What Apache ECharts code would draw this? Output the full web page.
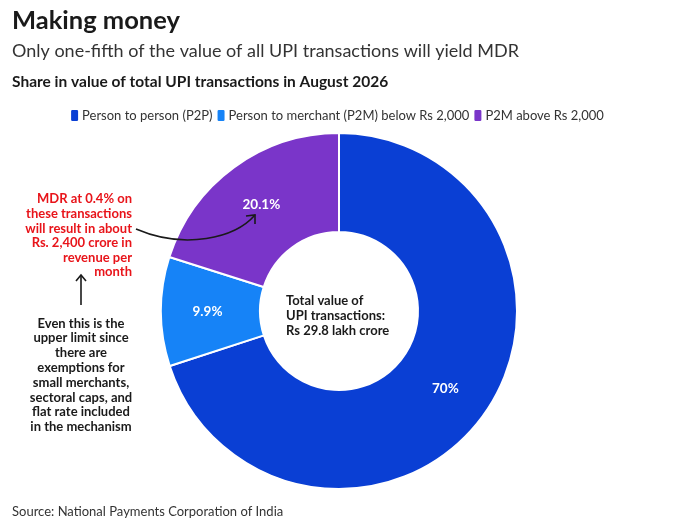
<!DOCTYPE html>
<html>
<head>
<meta charset="utf-8">
<script src="https://cdn.jsdelivr.net/npm/echarts@6/dist/echarts.min.js"></script>
<style>
  html, body { margin: 0; padding: 0; background: #fff; }
  #chart { width: 673px; height: 528px; }
</style>
</head>
<body>
<div id="chart"></div>
<script>
var categories = ['Person to person (P2P)', 'Person to merchant (P2M) below Rs 2,000', 'P2M above Rs 2,000'];
var shares = [70, 9.9, 20.1];
var shareLabels = ['70%', '9.9%', '20.1%'];
var colors = ['#0a3fd4', '#1683f7', '#7a35c9'];

var font = 'Lato, "Noto Sans", sans-serif';

var chart = echarts.init(document.getElementById('chart'));

var pieData = [];
for (var i = 0; i < categories.length; i++) {
  pieData.push({
    name: categories[i],
    value: shares[i],
    itemStyle: { color: colors[i] },
    label: { formatter: shareLabels[i] }
  });
}

option = {
  backgroundColor: '#fff',
  title: [
    { text: 'Making money', left: 12, top: 8, padding: 0,
      textStyle: { fontFamily: font, fontSize: 25.5, fontWeight: 'bold', color: '#1a1a1a' } },
    { text: 'Only one-fifth of the value of all UPI transactions will yield MDR', left: 12, top: 42, padding: 0,
      textStyle: { fontFamily: font, fontSize: 18, fontWeight: 'normal', color: '#333' } },
    { text: 'Share in value of total UPI transactions in August 2026', left: 12, top: 74, padding: 0,
      textStyle: { fontFamily: font, fontSize: 15.5, fontWeight: 'bold', color: '#1a1a1a' } },
    { text: 'Source: National Payments Corporation of India', left: 12, top: 505, padding: 0,
      textStyle: { fontFamily: font, fontSize: 13, fontWeight: 'normal', color: '#333' } }
  ],
  legend: {
    data: categories,
    top: 103,
    left: 'center',
    itemWidth: 9,
    itemHeight: 13,
    itemGap: 3,
    icon: 'roundRect',
    textStyle: { fontFamily: font, fontSize: 13, color: '#333', padding: [0, 0, 0, -2] }
  },
  series: [{
    type: 'pie',
    center: [339, 311],
    radius: [79, 178],
    startAngle: 90,
    clockwise: true,
    silent: true,
    itemStyle: { borderColor: '#fff', borderWidth: 2 },
    label: {
      position: 'inside',
      color: '#fff',
      fontFamily: font,
      fontSize: 13.5,
      fontWeight: 'bold'
    },
    labelLine: { show: false },
    data: pieData
  }],
  graphic: [
    {
      type: 'text', x: 286, y: 293, z: 100,
      style: {
        text: 'Total value of\nUPI transactions:\nRs 29.8 lakh crore',
        font: 'bold 13px ' + font, fill: '#1a1a1a', lineHeight: 15
      }
    },
    {
      type: 'text', x: 132, y: 192, z: 100,
      style: {
        text: 'MDR at 0.4% on\nthese transactions\nwill result in about\nRs. 2,400 crore in\nrevenue per\nmonth',
        font: 'bold 13px ' + font, fill: '#e8141a', lineHeight: 14.6,
        align: 'right', verticalAlign: 'top'
      }
    },
    {
      type: 'text', x: 81, y: 316, z: 100,
      style: {
        text: 'Even this is the\nupper limit since\nthere are\nexemptions for\nsmall merchants,\nsectoral caps, and\nflat rate included\nin the mechanism',
        font: 'bold 13px ' + font, fill: '#1a1a1a', lineHeight: 14.8,
        align: 'center', verticalAlign: 'top'
      }
    },
    {
      type: 'bezierCurve', z: 100,
      shape: { x1: 136, y1: 229, cpx1: 185, cpy1: 250, cpx2: 235, cpy2: 238, x2: 255, y2: 215 },
      style: { stroke: '#1a1a1a', lineWidth: 1.6, fill: null }
    },
    {
      type: 'polyline', z: 100,
      shape: { points: [[246, 216], [255, 215], [255, 224]] },
      style: { stroke: '#1a1a1a', lineWidth: 1.6, fill: null }
    },
    {
      type: 'line', z: 100,
      shape: { x1: 81, y1: 305, x2: 81, y2: 275 },
      style: { stroke: '#1a1a1a', lineWidth: 1.6 }
    },
    {
      type: 'polyline', z: 100,
      shape: { points: [[76, 281], [81, 275], [86, 281]] },
      style: { stroke: '#1a1a1a', lineWidth: 1.6, fill: null }
    }
  ]
};
chart.setOption(option);
</script>
</body>
</html>
